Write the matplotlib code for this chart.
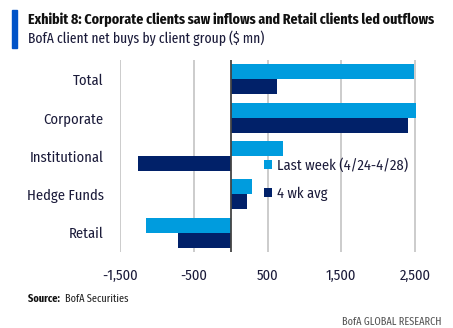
import matplotlib
matplotlib.use("Agg")
import matplotlib.pyplot as plt
from matplotlib.patches import Rectangle
import numpy as np

categories = ["Total", "Corporate", "Institutional", "Hedge Funds", "Retail"]
last_week = [2490, 2520, 705, 293, -1145]
four_wk_avg = [632, 2400, -1262, 225, -720]
xticks = [-1500, -500, 500, 1500, 2500]
xtick_labels = ["-1,500", "-500", "500", "1,500", "2,500"]
series_names = ["Last week (4/24-4/28)", "4 wk avg"]

LIGHT = "#009CDE"
DARK = "#012169"
TEXT = "#1b1b3a"
FONT = ["Fira Sans Condensed", "Roboto Condensed", "DejaVu Sans"]
HEAD_FONT = ["Fira Sans Extra Condensed", "Roboto Condensed", "DejaVu Sans"]
plt.rcParams["font.family"] = FONT

fig = plt.figure(figsize=(4.53, 3.28), dpi=100)
ax = fig.add_axes([0.2654, 0.232, 0.6587, 0.585])

y = np.arange(len(categories))
h = 0.39
ax.barh(y - h / 2, last_week, height=h, color=LIGHT, label=series_names[0], zorder=3)
ax.barh(y + h / 2, four_wk_avg, height=h, color=DARK, label=series_names[1], zorder=3)

ax.set_xlim(-1500, 2550)
ax.set_ylim(len(categories) - 0.5, -0.5)
ax.set_xticks(xticks)
ax.set_xticklabels(xtick_labels)
ax.set_yticks(y)
ax.set_yticklabels(categories)
ax.tick_params(axis="x", length=0, pad=12, labelsize=10.5, labelcolor=TEXT)
ax.tick_params(axis="y", length=0, pad=12, labelsize=10.5, labelcolor=TEXT)
ax.grid(axis="x", color="#c8c8c8", linewidth=1.3, zorder=0)
for s in ax.spines.values():
    s.set_visible(False)
ax.axvline(0, color="#444444", linewidth=1.3, zorder=4)

ax.legend(loc="upper left", bbox_to_anchor=(0.482, 0.49), frameon=False,
          borderaxespad=0, borderpad=0,
          fontsize=10.5, handlelength=0.55, handleheight=0.55, handletextpad=0.35,
          labelspacing=0.95, labelcolor=TEXT)

# header
fig.patches.append(Rectangle((12 / 453, 1 - 48 / 328), 5 / 453, 38 / 328,
                             transform=fig.transFigure, color="#0053C8"))
fig.text(28 / 453, 1 - 20 / 328, "Exhibit 8: Corporate clients saw inflows and Retail clients led outflows",
         fontsize=10.9, fontweight="bold", color="#111111", va="center", ha="left",
         family=HEAD_FONT)
fig.text(28 / 453, 1 - 38 / 328, "BofA client net buys by client group ($ mn)",
         fontsize=10.6, color="#1b1b3a", va="center", ha="left", family=HEAD_FONT)

# footer
fig.text(28 / 453, 1 - 299 / 328, "Source:", fontsize=8, fontweight="bold",
         color="#111111", va="center", ha="left", family=HEAD_FONT)
fig.text(65 / 453, 1 - 299 / 328, "BofA Securities", fontsize=8,
         color="#222222", va="center", ha="left", family=HEAD_FONT)
fig.text(442 / 453, 1 - 322 / 328, "BofA GLOBAL RESEARCH", fontsize=8,
         color="#555555", va="center", ha="right", family=HEAD_FONT)

fig.savefig("out.png", dpi=100)
